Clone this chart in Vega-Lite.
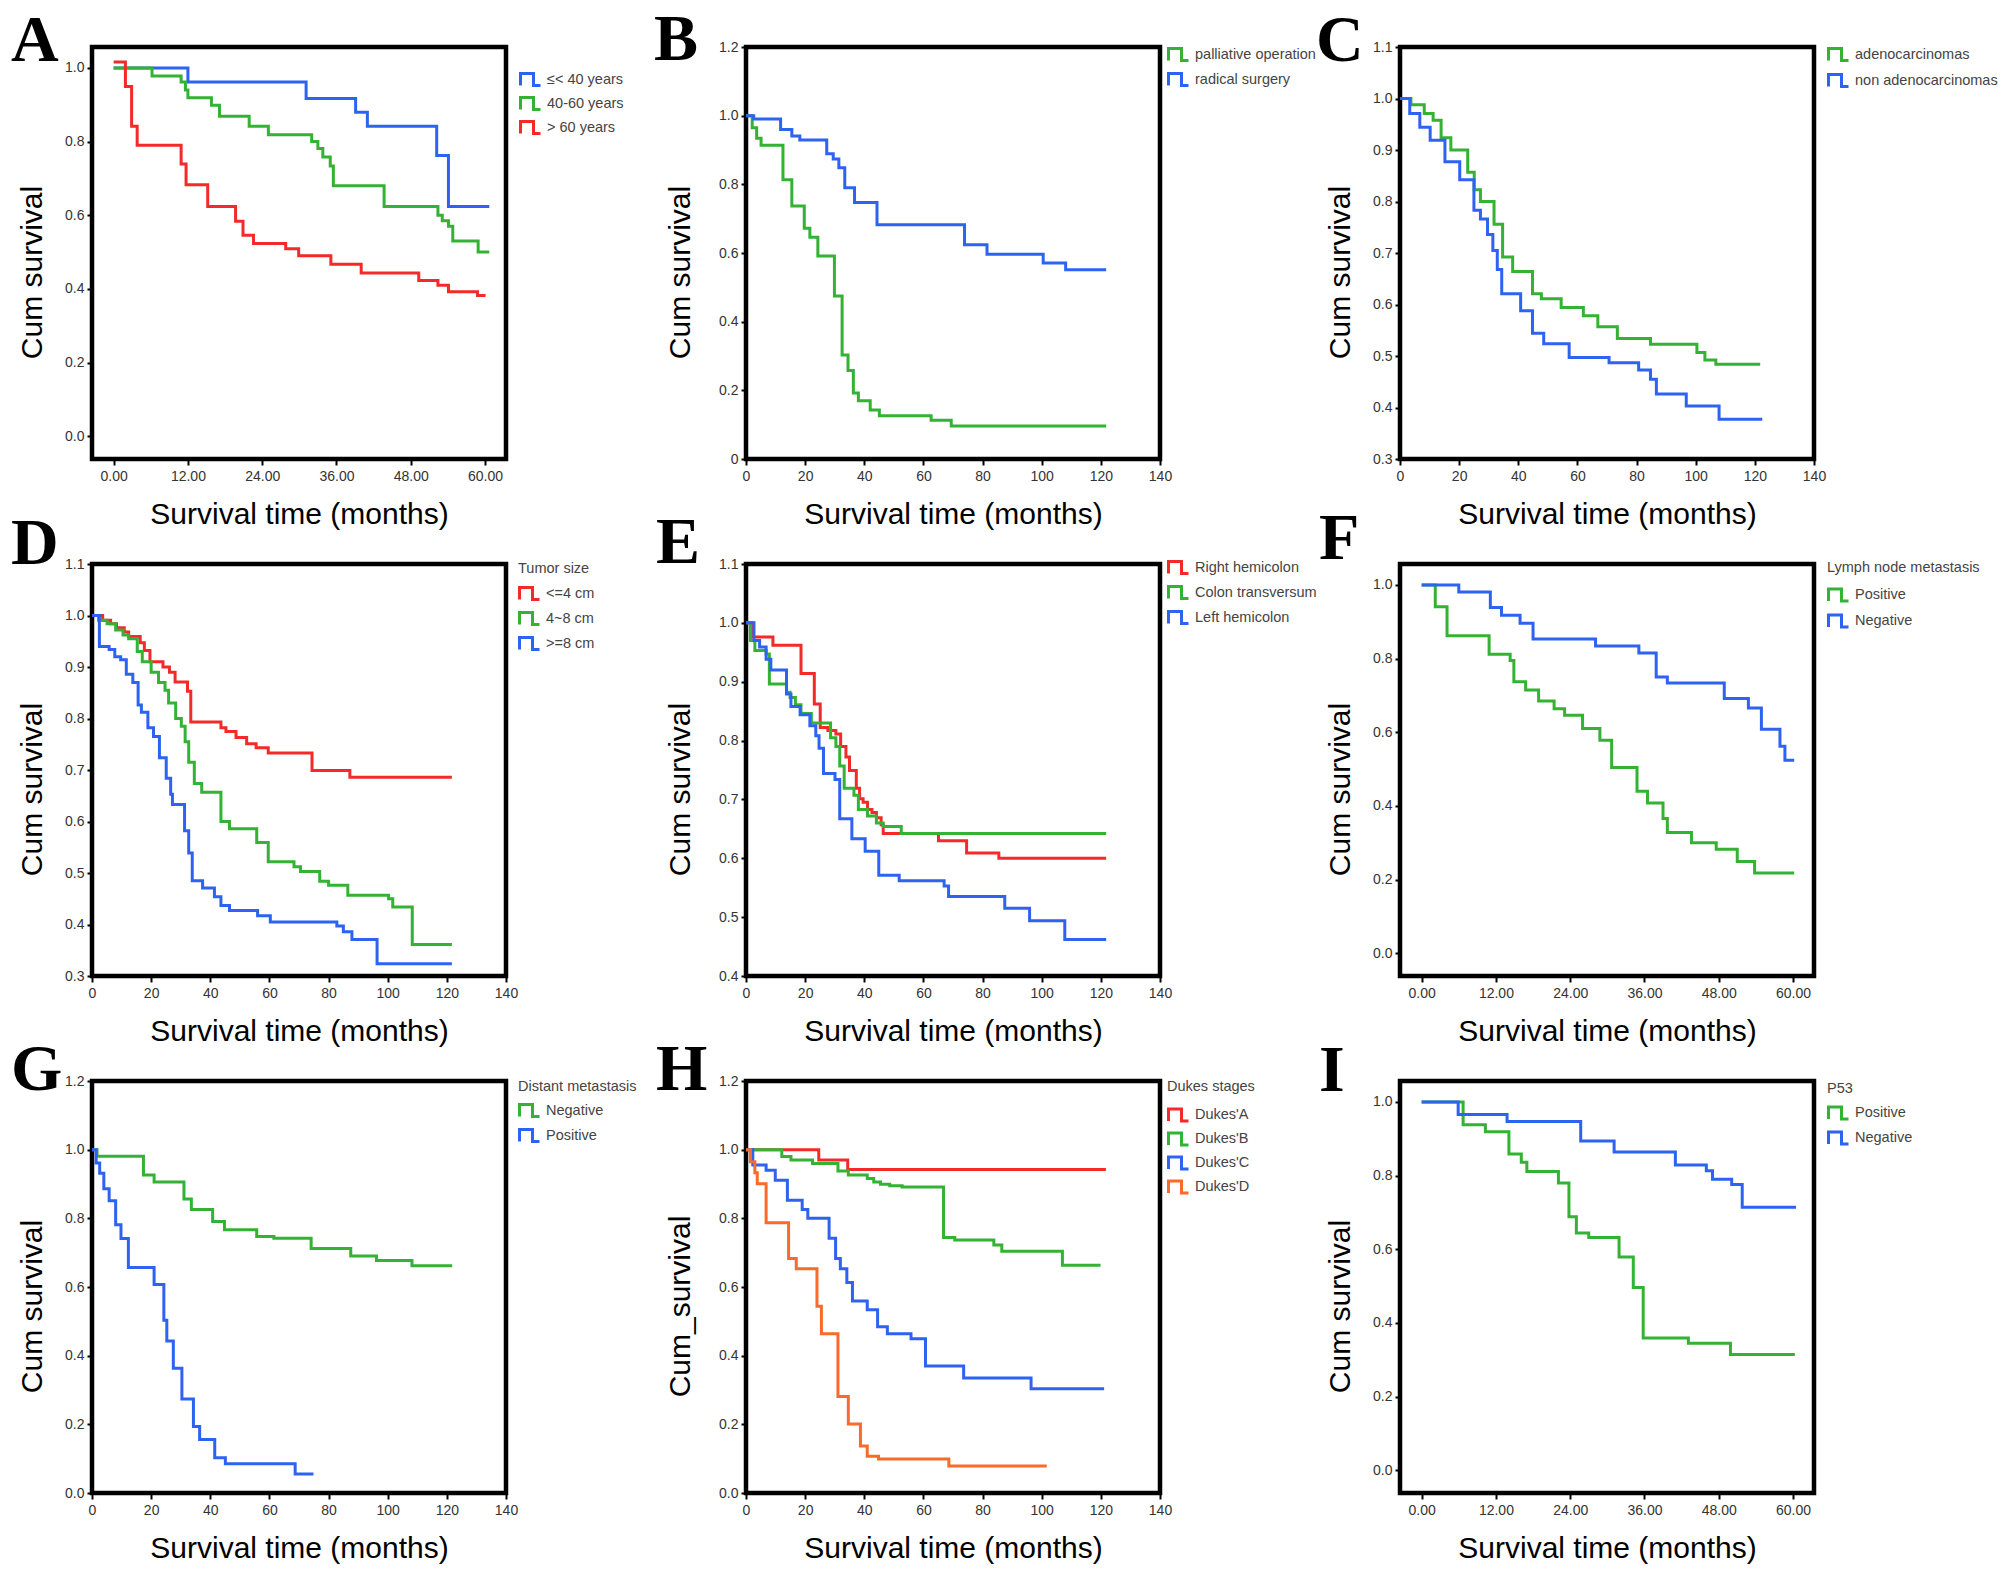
{
"$schema": "https://vega.github.io/schema/vega-lite/v6.json",
"autosize": {"type": "none"},
"padding": {"left": 92, "top": 47, "right": 1916, "bottom": 1530},
"background": "white",
"datasets": {
"km": [
{"p":"A","g":"≤< 40 years","t":0,"s":1.0},{"p":"A","g":"≤< 40 years","t":12,"s":0.962},{"p":"A","g":"≤< 40 years","t":31.1,"s":0.917},{"p":"A","g":"≤< 40 years","t":39.1,"s":0.88},{"p":"A","g":"≤< 40 years","t":41,"s":0.842},{"p":"A","g":"≤< 40 years","t":52.2,"s":0.762},{"p":"A","g":"≤< 40 years","t":54.1,"s":0.624},{"p":"A","g":"≤< 40 years","t":60.7,"s":0.624},
{"p":"A","g":"40-60 years","t":0,"s":1.0},{"p":"A","g":"40-60 years","t":6.2,"s":0.978},{"p":"A","g":"40-60 years","t":10.9,"s":0.962},{"p":"A","g":"40-60 years","t":11.6,"s":0.94},{"p":"A","g":"40-60 years","t":12,"s":0.919},{"p":"A","g":"40-60 years","t":15.8,"s":0.899},{"p":"A","g":"40-60 years","t":17.1,"s":0.869},{"p":"A","g":"40-60 years","t":21.9,"s":0.842},{"p":"A","g":"40-60 years","t":25,"s":0.819},{"p":"A","g":"40-60 years","t":32,"s":0.8},{"p":"A","g":"40-60 years","t":33,"s":0.781},{"p":"A","g":"40-60 years","t":33.8,"s":0.758},{"p":"A","g":"40-60 years","t":35,"s":0.734},{"p":"A","g":"40-60 years","t":35.5,"s":0.68},{"p":"A","g":"40-60 years","t":43.7,"s":0.624},{"p":"A","g":"40-60 years","t":52.4,"s":0.6},{"p":"A","g":"40-60 years","t":53.1,"s":0.585},{"p":"A","g":"40-60 years","t":54.1,"s":0.57},{"p":"A","g":"40-60 years","t":54.8,"s":0.53},{"p":"A","g":"40-60 years","t":58.9,"s":0.5},{"p":"A","g":"40-60 years","t":60.7,"s":0.5},
{"p":"A","g":"> 60 years","t":0,"s":1.016},{"p":"A","g":"> 60 years","t":1.9,"s":0.95},{"p":"A","g":"> 60 years","t":2.9,"s":0.842},{"p":"A","g":"> 60 years","t":3.8,"s":0.79},{"p":"A","g":"> 60 years","t":10.9,"s":0.739},{"p":"A","g":"> 60 years","t":11.7,"s":0.683},{"p":"A","g":"> 60 years","t":15.2,"s":0.624},{"p":"A","g":"> 60 years","t":19.7,"s":0.584},{"p":"A","g":"> 60 years","t":20.9,"s":0.546},{"p":"A","g":"> 60 years","t":22.6,"s":0.523},{"p":"A","g":"> 60 years","t":27.8,"s":0.509},{"p":"A","g":"> 60 years","t":29.9,"s":0.49},{"p":"A","g":"> 60 years","t":35.1,"s":0.467},{"p":"A","g":"> 60 years","t":40,"s":0.443},{"p":"A","g":"> 60 years","t":49.3,"s":0.423},{"p":"A","g":"> 60 years","t":52.4,"s":0.41},{"p":"A","g":"> 60 years","t":54.1,"s":0.392},{"p":"A","g":"> 60 years","t":58.8,"s":0.382},{"p":"A","g":"> 60 years","t":60.1,"s":0.382},
{"p":"B","g":"palliative operation","t":0,"s":1.0},{"p":"B","g":"palliative operation","t":2.1,"s":0.965},{"p":"B","g":"palliative operation","t":3.6,"s":0.934},{"p":"B","g":"palliative operation","t":5.1,"s":0.914},{"p":"B","g":"palliative operation","t":12.5,"s":0.813},{"p":"B","g":"palliative operation","t":15.5,"s":0.737},{"p":"B","g":"palliative operation","t":19.7,"s":0.672},{"p":"B","g":"palliative operation","t":21.6,"s":0.646},{"p":"B","g":"palliative operation","t":24.3,"s":0.591},{"p":"B","g":"palliative operation","t":29.9,"s":0.475},{"p":"B","g":"palliative operation","t":32.5,"s":0.303},{"p":"B","g":"palliative operation","t":34.5,"s":0.258},{"p":"B","g":"palliative operation","t":36.3,"s":0.192},{"p":"B","g":"palliative operation","t":38,"s":0.17},{"p":"B","g":"palliative operation","t":42,"s":0.143},{"p":"B","g":"palliative operation","t":45.1,"s":0.126},{"p":"B","g":"palliative operation","t":62.6,"s":0.113},{"p":"B","g":"palliative operation","t":69.4,"s":0.096},{"p":"B","g":"palliative operation","t":121.8,"s":0.096},
{"p":"B","g":"radical surgery","t":0,"s":1.0},{"p":"B","g":"radical surgery","t":2.6,"s":0.99},{"p":"B","g":"radical surgery","t":11.7,"s":0.96},{"p":"B","g":"radical surgery","t":15.5,"s":0.941},{"p":"B","g":"radical surgery","t":18.2,"s":0.929},{"p":"B","g":"radical surgery","t":27.3,"s":0.889},{"p":"B","g":"radical surgery","t":29.5,"s":0.874},{"p":"B","g":"radical surgery","t":31.4,"s":0.848},{"p":"B","g":"radical surgery","t":33.4,"s":0.79},{"p":"B","g":"radical surgery","t":36.7,"s":0.747},{"p":"B","g":"radical surgery","t":44.3,"s":0.682},{"p":"B","g":"radical surgery","t":73.9,"s":0.624},{"p":"B","g":"radical surgery","t":81.5,"s":0.596},{"p":"B","g":"radical surgery","t":100.5,"s":0.571},{"p":"B","g":"radical surgery","t":108.1,"s":0.551},{"p":"B","g":"radical surgery","t":121.8,"s":0.551},
{"p":"C","g":"adenocarcinomas","t":0,"s":1.0},{"p":"C","g":"adenocarcinomas","t":3.7,"s":0.988},{"p":"C","g":"adenocarcinomas","t":8.2,"s":0.971},{"p":"C","g":"adenocarcinomas","t":11.2,"s":0.958},{"p":"C","g":"adenocarcinomas","t":13.9,"s":0.924},{"p":"C","g":"adenocarcinomas","t":17.2,"s":0.9},{"p":"C","g":"adenocarcinomas","t":22.9,"s":0.857},{"p":"C","g":"adenocarcinomas","t":25.1,"s":0.823},{"p":"C","g":"adenocarcinomas","t":27.2,"s":0.8},{"p":"C","g":"adenocarcinomas","t":31.8,"s":0.756},{"p":"C","g":"adenocarcinomas","t":34.7,"s":0.692},{"p":"C","g":"adenocarcinomas","t":38.1,"s":0.664},{"p":"C","g":"adenocarcinomas","t":44.8,"s":0.621},{"p":"C","g":"adenocarcinomas","t":47.8,"s":0.611},{"p":"C","g":"adenocarcinomas","t":54.5,"s":0.594},{"p":"C","g":"adenocarcinomas","t":62,"s":0.578},{"p":"C","g":"adenocarcinomas","t":66.9,"s":0.557},{"p":"C","g":"adenocarcinomas","t":73.5,"s":0.534},{"p":"C","g":"adenocarcinomas","t":84.7,"s":0.523},{"p":"C","g":"adenocarcinomas","t":100.4,"s":0.507},{"p":"C","g":"adenocarcinomas","t":103.1,"s":0.492},{"p":"C","g":"adenocarcinomas","t":106.8,"s":0.484},{"p":"C","g":"adenocarcinomas","t":121.8,"s":0.484},
{"p":"C","g":"non adenocarcinomas","t":0,"s":1.0},{"p":"C","g":"non adenocarcinomas","t":3.3,"s":0.971},{"p":"C","g":"non adenocarcinomas","t":6.7,"s":0.944},{"p":"C","g":"non adenocarcinomas","t":10.2,"s":0.919},{"p":"C","g":"non adenocarcinomas","t":15.2,"s":0.877},{"p":"C","g":"non adenocarcinomas","t":20.2,"s":0.842},{"p":"C","g":"non adenocarcinomas","t":25,"s":0.783},{"p":"C","g":"non adenocarcinomas","t":27.2,"s":0.766},{"p":"C","g":"non adenocarcinomas","t":29.6,"s":0.736},{"p":"C","g":"non adenocarcinomas","t":31.4,"s":0.705},{"p":"C","g":"non adenocarcinomas","t":32.9,"s":0.668},{"p":"C","g":"non adenocarcinomas","t":34.4,"s":0.621},{"p":"C","g":"non adenocarcinomas","t":40.8,"s":0.588},{"p":"C","g":"non adenocarcinomas","t":44.8,"s":0.544},{"p":"C","g":"non adenocarcinomas","t":48.6,"s":0.524},{"p":"C","g":"non adenocarcinomas","t":57.2,"s":0.497},{"p":"C","g":"non adenocarcinomas","t":70.7,"s":0.487},{"p":"C","g":"non adenocarcinomas","t":80.7,"s":0.473},{"p":"C","g":"non adenocarcinomas","t":84.7,"s":0.455},{"p":"C","g":"non adenocarcinomas","t":86.7,"s":0.426},{"p":"C","g":"non adenocarcinomas","t":96.8,"s":0.403},{"p":"C","g":"non adenocarcinomas","t":107.9,"s":0.377},{"p":"C","g":"non adenocarcinomas","t":122.5,"s":0.377},
{"p":"D","g":"<=4 cm","t":0,"s":1.0},{"p":"D","g":"<=4 cm","t":3.6,"s":0.991},{"p":"D","g":"<=4 cm","t":6.3,"s":0.984},{"p":"D","g":"<=4 cm","t":8.3,"s":0.976},{"p":"D","g":"<=4 cm","t":10.9,"s":0.968},{"p":"D","g":"<=4 cm","t":12.4,"s":0.959},{"p":"D","g":"<=4 cm","t":16.3,"s":0.947},{"p":"D","g":"<=4 cm","t":17.7,"s":0.932},{"p":"D","g":"<=4 cm","t":19.6,"s":0.91},{"p":"D","g":"<=4 cm","t":24,"s":0.9},{"p":"D","g":"<=4 cm","t":26.2,"s":0.89},{"p":"D","g":"<=4 cm","t":28.1,"s":0.871},{"p":"D","g":"<=4 cm","t":32.3,"s":0.853},{"p":"D","g":"<=4 cm","t":33.4,"s":0.793},{"p":"D","g":"<=4 cm","t":43.6,"s":0.782},{"p":"D","g":"<=4 cm","t":45.3,"s":0.775},{"p":"D","g":"<=4 cm","t":48.7,"s":0.763},{"p":"D","g":"<=4 cm","t":52.3,"s":0.751},{"p":"D","g":"<=4 cm","t":55.5,"s":0.743},{"p":"D","g":"<=4 cm","t":59.6,"s":0.733},{"p":"D","g":"<=4 cm","t":74.4,"s":0.699},{"p":"D","g":"<=4 cm","t":87.2,"s":0.686},{"p":"D","g":"<=4 cm","t":121.7,"s":0.686},
{"p":"D","g":"4~8 cm","t":0,"s":1.0},{"p":"D","g":"4~8 cm","t":2.2,"s":0.991},{"p":"D","g":"4~8 cm","t":5.1,"s":0.984},{"p":"D","g":"4~8 cm","t":8,"s":0.972},{"p":"D","g":"4~8 cm","t":10.5,"s":0.962},{"p":"D","g":"4~8 cm","t":12.4,"s":0.955},{"p":"D","g":"4~8 cm","t":15.3,"s":0.93},{"p":"D","g":"4~8 cm","t":17,"s":0.91},{"p":"D","g":"4~8 cm","t":20,"s":0.89},{"p":"D","g":"4~8 cm","t":22.5,"s":0.87},{"p":"D","g":"4~8 cm","t":24.7,"s":0.855},{"p":"D","g":"4~8 cm","t":25.9,"s":0.83},{"p":"D","g":"4~8 cm","t":28.3,"s":0.8},{"p":"D","g":"4~8 cm","t":30.2,"s":0.785},{"p":"D","g":"4~8 cm","t":31.5,"s":0.755},{"p":"D","g":"4~8 cm","t":32.7,"s":0.715},{"p":"D","g":"4~8 cm","t":34.6,"s":0.674},{"p":"D","g":"4~8 cm","t":37.1,"s":0.657},{"p":"D","g":"4~8 cm","t":43.6,"s":0.6},{"p":"D","g":"4~8 cm","t":46.5,"s":0.586},{"p":"D","g":"4~8 cm","t":55.7,"s":0.559},{"p":"D","g":"4~8 cm","t":59.6,"s":0.522},{"p":"D","g":"4~8 cm","t":68.3,"s":0.512},{"p":"D","g":"4~8 cm","t":70.5,"s":0.503},{"p":"D","g":"4~8 cm","t":77,"s":0.484},{"p":"D","g":"4~8 cm","t":80,"s":0.476},{"p":"D","g":"4~8 cm","t":86.5,"s":0.457},{"p":"D","g":"4~8 cm","t":100.3,"s":0.45},{"p":"D","g":"4~8 cm","t":101.7,"s":0.434},{"p":"D","g":"4~8 cm","t":108.3,"s":0.361},{"p":"D","g":"4~8 cm","t":121.7,"s":0.361},
{"p":"D","g":">=8 cm","t":0,"s":1.0},{"p":"D","g":">=8 cm","t":2.5,"s":0.94},{"p":"D","g":">=8 cm","t":5.8,"s":0.934},{"p":"D","g":">=8 cm","t":7.7,"s":0.92},{"p":"D","g":">=8 cm","t":9.7,"s":0.914},{"p":"D","g":">=8 cm","t":11.6,"s":0.886},{"p":"D","g":">=8 cm","t":13.8,"s":0.87},{"p":"D","g":">=8 cm","t":15.6,"s":0.826},{"p":"D","g":">=8 cm","t":16.7,"s":0.812},{"p":"D","g":">=8 cm","t":18.9,"s":0.782},{"p":"D","g":">=8 cm","t":20.8,"s":0.765},{"p":"D","g":">=8 cm","t":22.8,"s":0.724},{"p":"D","g":">=8 cm","t":25.1,"s":0.684},{"p":"D","g":">=8 cm","t":26.6,"s":0.653},{"p":"D","g":">=8 cm","t":27.2,"s":0.633},{"p":"D","g":">=8 cm","t":31.3,"s":0.582},{"p":"D","g":">=8 cm","t":32.7,"s":0.539},{"p":"D","g":">=8 cm","t":33.9,"s":0.485},{"p":"D","g":">=8 cm","t":37.4,"s":0.471},{"p":"D","g":">=8 cm","t":41.4,"s":0.454},{"p":"D","g":">=8 cm","t":43.6,"s":0.437},{"p":"D","g":">=8 cm","t":46.5,"s":0.427},{"p":"D","g":">=8 cm","t":56,"s":0.417},{"p":"D","g":">=8 cm","t":60.3,"s":0.405},{"p":"D","g":">=8 cm","t":82.8,"s":0.397},{"p":"D","g":">=8 cm","t":85,"s":0.386},{"p":"D","g":">=8 cm","t":87.9,"s":0.371},{"p":"D","g":">=8 cm","t":96.4,"s":0.324},{"p":"D","g":">=8 cm","t":121.7,"s":0.324},
{"p":"E","g":"Right hemicolon","t":0,"s":1.0},{"p":"E","g":"Right hemicolon","t":2.3,"s":0.976},{"p":"E","g":"Right hemicolon","t":9.1,"s":0.962},{"p":"E","g":"Right hemicolon","t":18.6,"s":0.914},{"p":"E","g":"Right hemicolon","t":23.1,"s":0.862},{"p":"E","g":"Right hemicolon","t":25.1,"s":0.822},{"p":"E","g":"Right hemicolon","t":27.7,"s":0.817},{"p":"E","g":"Right hemicolon","t":30.4,"s":0.811},{"p":"E","g":"Right hemicolon","t":32,"s":0.79},{"p":"E","g":"Right hemicolon","t":33.8,"s":0.772},{"p":"E","g":"Right hemicolon","t":35,"s":0.749},{"p":"E","g":"Right hemicolon","t":37.3,"s":0.719},{"p":"E","g":"Right hemicolon","t":38.4,"s":0.701},{"p":"E","g":"Right hemicolon","t":39.6,"s":0.695},{"p":"E","g":"Right hemicolon","t":41.1,"s":0.683},{"p":"E","g":"Right hemicolon","t":42.6,"s":0.678},{"p":"E","g":"Right hemicolon","t":44.1,"s":0.669},{"p":"E","g":"Right hemicolon","t":45.7,"s":0.657},{"p":"E","g":"Right hemicolon","t":46.4,"s":0.642},{"p":"E","g":"Right hemicolon","t":65.1,"s":0.63},{"p":"E","g":"Right hemicolon","t":74.6,"s":0.609},{"p":"E","g":"Right hemicolon","t":85.5,"s":0.6},{"p":"E","g":"Right hemicolon","t":121.8,"s":0.6},
{"p":"E","g":"Colon transversum","t":0,"s":1.0},{"p":"E","g":"Colon transversum","t":1.5,"s":0.97},{"p":"E","g":"Colon transversum","t":3,"s":0.953},{"p":"E","g":"Colon transversum","t":6.8,"s":0.947},{"p":"E","g":"Colon transversum","t":7.9,"s":0.896},{"p":"E","g":"Colon transversum","t":13.7,"s":0.882},{"p":"E","g":"Colon transversum","t":14.9,"s":0.873},{"p":"E","g":"Colon transversum","t":16.7,"s":0.861},{"p":"E","g":"Colon transversum","t":18.6,"s":0.846},{"p":"E","g":"Colon transversum","t":22.1,"s":0.83},{"p":"E","g":"Colon transversum","t":28.6,"s":0.805},{"p":"E","g":"Colon transversum","t":30.4,"s":0.79},{"p":"E","g":"Colon transversum","t":31.7,"s":0.757},{"p":"E","g":"Colon transversum","t":33.2,"s":0.719},{"p":"E","g":"Colon transversum","t":36.5,"s":0.707},{"p":"E","g":"Colon transversum","t":38,"s":0.683},{"p":"E","g":"Colon transversum","t":41.1,"s":0.672},{"p":"E","g":"Colon transversum","t":44.1,"s":0.66},{"p":"E","g":"Colon transversum","t":46.4,"s":0.654},{"p":"E","g":"Colon transversum","t":52.5,"s":0.642},{"p":"E","g":"Colon transversum","t":121.8,"s":0.642},
{"p":"E","g":"Left hemicolon","t":0,"s":1.0},{"p":"E","g":"Left hemicolon","t":2.7,"s":0.97},{"p":"E","g":"Left hemicolon","t":4.6,"s":0.959},{"p":"E","g":"Left hemicolon","t":6.8,"s":0.938},{"p":"E","g":"Left hemicolon","t":8.4,"s":0.92},{"p":"E","g":"Left hemicolon","t":13.7,"s":0.879},{"p":"E","g":"Left hemicolon","t":15.2,"s":0.858},{"p":"E","g":"Left hemicolon","t":18.3,"s":0.844},{"p":"E","g":"Left hemicolon","t":21.6,"s":0.825},{"p":"E","g":"Left hemicolon","t":23.6,"s":0.808},{"p":"E","g":"Left hemicolon","t":24.7,"s":0.787},{"p":"E","g":"Left hemicolon","t":26.2,"s":0.744},{"p":"E","g":"Left hemicolon","t":30.1,"s":0.734},{"p":"E","g":"Left hemicolon","t":31.7,"s":0.667},{"p":"E","g":"Left hemicolon","t":35.8,"s":0.633},{"p":"E","g":"Left hemicolon","t":40.3,"s":0.612},{"p":"E","g":"Left hemicolon","t":44.9,"s":0.571},{"p":"E","g":"Left hemicolon","t":51.8,"s":0.562},{"p":"E","g":"Left hemicolon","t":67,"s":0.553},{"p":"E","g":"Left hemicolon","t":68.5,"s":0.535},{"p":"E","g":"Left hemicolon","t":87.5,"s":0.515},{"p":"E","g":"Left hemicolon","t":95.9,"s":0.494},{"p":"E","g":"Left hemicolon","t":107.8,"s":0.462},{"p":"E","g":"Left hemicolon","t":121.8,"s":0.462},
{"p":"F","g":"Positive","t":0,"s":1.0},{"p":"F","g":"Positive","t":2.2,"s":0.941},{"p":"F","g":"Positive","t":4.1,"s":0.862},{"p":"F","g":"Positive","t":10.9,"s":0.812},{"p":"F","g":"Positive","t":14.3,"s":0.795},{"p":"F","g":"Positive","t":14.9,"s":0.737},{"p":"F","g":"Positive","t":16.8,"s":0.715},{"p":"F","g":"Positive","t":18.9,"s":0.685},{"p":"F","g":"Positive","t":21.4,"s":0.664},{"p":"F","g":"Positive","t":23.1,"s":0.646},{"p":"F","g":"Positive","t":26,"s":0.61},{"p":"F","g":"Positive","t":28.8,"s":0.578},{"p":"F","g":"Positive","t":30.7,"s":0.504},{"p":"F","g":"Positive","t":34.8,"s":0.44},{"p":"F","g":"Positive","t":36.5,"s":0.408},{"p":"F","g":"Positive","t":39,"s":0.366},{"p":"F","g":"Positive","t":39.7,"s":0.328},{"p":"F","g":"Positive","t":43.6,"s":0.3},{"p":"F","g":"Positive","t":47.6,"s":0.282},{"p":"F","g":"Positive","t":51,"s":0.249},{"p":"F","g":"Positive","t":53.8,"s":0.218},{"p":"F","g":"Positive","t":60.2,"s":0.218},
{"p":"F","g":"Negative","t":0,"s":1.0},{"p":"F","g":"Negative","t":6,"s":0.981},{"p":"F","g":"Negative","t":11.1,"s":0.939},{"p":"F","g":"Negative","t":12.9,"s":0.918},{"p":"F","g":"Negative","t":15.9,"s":0.896},{"p":"F","g":"Negative","t":18,"s":0.853},{"p":"F","g":"Negative","t":28.1,"s":0.834},{"p":"F","g":"Negative","t":35.1,"s":0.815},{"p":"F","g":"Negative","t":37.9,"s":0.75},{"p":"F","g":"Negative","t":39.7,"s":0.734},{"p":"F","g":"Negative","t":48.9,"s":0.692},{"p":"F","g":"Negative","t":52.8,"s":0.666},{"p":"F","g":"Negative","t":54.9,"s":0.608},{"p":"F","g":"Negative","t":57.9,"s":0.562},{"p":"F","g":"Negative","t":58.7,"s":0.524},{"p":"F","g":"Negative","t":60.2,"s":0.524},
{"p":"G","g":"Negative","t":0,"s":1.0},{"p":"G","g":"Negative","t":1.7,"s":0.981},{"p":"G","g":"Negative","t":17.4,"s":0.926},{"p":"G","g":"Negative","t":21,"s":0.906},{"p":"G","g":"Negative","t":31.1,"s":0.856},{"p":"G","g":"Negative","t":33.6,"s":0.826},{"p":"G","g":"Negative","t":40.8,"s":0.791},{"p":"G","g":"Negative","t":44.8,"s":0.767},{"p":"G","g":"Negative","t":55.7,"s":0.747},{"p":"G","g":"Negative","t":61.5,"s":0.742},{"p":"G","g":"Negative","t":74.1,"s":0.712},{"p":"G","g":"Negative","t":87.5,"s":0.69},{"p":"G","g":"Negative","t":96.2,"s":0.677},{"p":"G","g":"Negative","t":108.2,"s":0.662},{"p":"G","g":"Negative","t":121.8,"s":0.662},
{"p":"G","g":"Positive","t":0,"s":1.0},{"p":"G","g":"Positive","t":1.4,"s":0.961},{"p":"G","g":"Positive","t":2.6,"s":0.931},{"p":"G","g":"Positive","t":4,"s":0.886},{"p":"G","g":"Positive","t":5.8,"s":0.851},{"p":"G","g":"Positive","t":8,"s":0.781},{"p":"G","g":"Positive","t":9.8,"s":0.741},{"p":"G","g":"Positive","t":12.3,"s":0.657},{"p":"G","g":"Positive","t":21,"s":0.607},{"p":"G","g":"Positive","t":24.3,"s":0.503},{"p":"G","g":"Positive","t":25.3,"s":0.443},{"p":"G","g":"Positive","t":27.5,"s":0.363},{"p":"G","g":"Positive","t":30.4,"s":0.274},{"p":"G","g":"Positive","t":34.3,"s":0.194},{"p":"G","g":"Positive","t":36.4,"s":0.156},{"p":"G","g":"Positive","t":41.5,"s":0.103},{"p":"G","g":"Positive","t":45.1,"s":0.085},{"p":"G","g":"Positive","t":68.7,"s":0.055},{"p":"G","g":"Positive","t":74.9,"s":0.055},
{"p":"H","g":"Dukes'A","t":0,"s":1.0},{"p":"H","g":"Dukes'A","t":24.6,"s":0.97},{"p":"H","g":"Dukes'A","t":34.4,"s":0.942},{"p":"H","g":"Dukes'A","t":121.7,"s":0.942},
{"p":"H","g":"Dukes'B","t":0,"s":1.0},{"p":"H","g":"Dukes'B","t":12.1,"s":0.98},{"p":"H","g":"Dukes'B","t":15.2,"s":0.97},{"p":"H","g":"Dukes'B","t":22.5,"s":0.96},{"p":"H","g":"Dukes'B","t":31.1,"s":0.938},{"p":"H","g":"Dukes'B","t":34.6,"s":0.926},{"p":"H","g":"Dukes'B","t":41,"s":0.916},{"p":"H","g":"Dukes'B","t":43.2,"s":0.906},{"p":"H","g":"Dukes'B","t":45.5,"s":0.899},{"p":"H","g":"Dukes'B","t":48.6,"s":0.895},{"p":"H","g":"Dukes'B","t":52.8,"s":0.891},{"p":"H","g":"Dukes'B","t":66.8,"s":0.744},{"p":"H","g":"Dukes'B","t":70.6,"s":0.737},{"p":"H","g":"Dukes'B","t":83.8,"s":0.722},{"p":"H","g":"Dukes'B","t":86.5,"s":0.704},{"p":"H","g":"Dukes'B","t":107,"s":0.663},{"p":"H","g":"Dukes'B","t":119.9,"s":0.663},
{"p":"H","g":"Dukes'C","t":0,"s":1.0},{"p":"H","g":"Dukes'C","t":2.3,"s":0.955},{"p":"H","g":"Dukes'C","t":6.8,"s":0.94},{"p":"H","g":"Dukes'C","t":9.9,"s":0.911},{"p":"H","g":"Dukes'C","t":14,"s":0.853},{"p":"H","g":"Dukes'C","t":19,"s":0.826},{"p":"H","g":"Dukes'C","t":20.9,"s":0.8},{"p":"H","g":"Dukes'C","t":28.1,"s":0.742},{"p":"H","g":"Dukes'C","t":30.3,"s":0.683},{"p":"H","g":"Dukes'C","t":31.9,"s":0.653},{"p":"H","g":"Dukes'C","t":34.1,"s":0.613},{"p":"H","g":"Dukes'C","t":36,"s":0.559},{"p":"H","g":"Dukes'C","t":41,"s":0.534},{"p":"H","g":"Dukes'C","t":44.5,"s":0.484},{"p":"H","g":"Dukes'C","t":47.8,"s":0.464},{"p":"H","g":"Dukes'C","t":55.8,"s":0.449},{"p":"H","g":"Dukes'C","t":60.7,"s":0.37},{"p":"H","g":"Dukes'C","t":73.6,"s":0.335},{"p":"H","g":"Dukes'C","t":96.4,"s":0.304},{"p":"H","g":"Dukes'C","t":121.1,"s":0.304},
{"p":"H","g":"Dukes'D","t":0,"s":1.0},{"p":"H","g":"Dukes'D","t":1.5,"s":0.965},{"p":"H","g":"Dukes'D","t":3,"s":0.933},{"p":"H","g":"Dukes'D","t":3.8,"s":0.901},{"p":"H","g":"Dukes'D","t":6.8,"s":0.787},{"p":"H","g":"Dukes'D","t":14.4,"s":0.683},{"p":"H","g":"Dukes'D","t":17,"s":0.653},{"p":"H","g":"Dukes'D","t":24,"s":0.544},{"p":"H","g":"Dukes'D","t":25.5,"s":0.464},{"p":"H","g":"Dukes'D","t":31.1,"s":0.281},{"p":"H","g":"Dukes'D","t":34.6,"s":0.201},{"p":"H","g":"Dukes'D","t":38.7,"s":0.137},{"p":"H","g":"Dukes'D","t":41,"s":0.107},{"p":"H","g":"Dukes'D","t":44.8,"s":0.099},{"p":"H","g":"Dukes'D","t":68.6,"s":0.079},{"p":"H","g":"Dukes'D","t":101.7,"s":0.079},
{"p":"I","g":"Positive","t":0,"s":1.0},{"p":"I","g":"Positive","t":6.7,"s":0.938},{"p":"I","g":"Positive","t":10.3,"s":0.919},{"p":"I","g":"Positive","t":14.1,"s":0.859},{"p":"I","g":"Positive","t":16.1,"s":0.836},{"p":"I","g":"Positive","t":17,"s":0.811},{"p":"I","g":"Positive","t":22.1,"s":0.78},{"p":"I","g":"Positive","t":23.8,"s":0.688},{"p":"I","g":"Positive","t":25,"s":0.644},{"p":"I","g":"Positive","t":27,"s":0.632},{"p":"I","g":"Positive","t":31.9,"s":0.579},{"p":"I","g":"Positive","t":34.2,"s":0.496},{"p":"I","g":"Positive","t":35.8,"s":0.359},{"p":"I","g":"Positive","t":43.1,"s":0.345},{"p":"I","g":"Positive","t":49.9,"s":0.314},{"p":"I","g":"Positive","t":60.3,"s":0.314},
{"p":"I","g":"Negative","t":0,"s":1.0},{"p":"I","g":"Negative","t":5.9,"s":0.966},{"p":"I","g":"Negative","t":13.8,"s":0.947},{"p":"I","g":"Negative","t":25.7,"s":0.894},{"p":"I","g":"Negative","t":31.1,"s":0.864},{"p":"I","g":"Negative","t":41,"s":0.829},{"p":"I","g":"Negative","t":46,"s":0.813},{"p":"I","g":"Negative","t":47,"s":0.79},{"p":"I","g":"Negative","t":50.1,"s":0.776},{"p":"I","g":"Negative","t":51.8,"s":0.714},{"p":"I","g":"Negative","t":60.5,"s":0.714}
]
},
"data": {"name": "km"},
"columns": 3,
"spacing": {"row": 105, "column": 240},
"bounds": "flush",
"resolve": {"scale": {"color": "independent"}, "legend": {"color": "independent"}},
"concat": [
{
 "width": 414, "height": 412,
 "title": {"text": "A", "dx": -81, "dy": 32},
 "transform": [{"filter": "datum.p == 'A'"}],
 "mark": {"type": "line", "interpolate": "step-after", "strokeWidth": 3},
 "encoding": {
  "x": {"field": "t", "type": "quantitative", "scale": {"domain": [-3.5, 63.4], "nice": false, "zero": false}, "axis": {"values": [0, 12, 24, 36, 48, 60], "format": ".2f", "title": "Survival time (months)"}},
  "y": {"field": "s", "type": "quantitative", "scale": {"domain": [-0.062, 1.057], "nice": false, "zero": false}, "axis": {"values": [0, 0.2, 0.4, 0.6, 0.8, 1.0], "format": ".1f", "title": "Cum survival"}},
  "color": {"field": "g", "type": "nominal", "scale": {"domain": ["≤< 40 years", "40-60 years", "> 60 years"], "range": ["#2e62f0", "#33b233", "#f42a2a"]},
   "legend": {"title": null, "orient": "none", "legendX": 427, "legendY": 21, "rowPadding": -5, "encode": {"symbols": {"update": {"fill": {"value": "transparent"}}}}}}
 }
},
{
 "width": 414, "height": 412,
 "title": {"text": "B", "dx": -92, "dy": 38},
 "transform": [{"filter": "datum.p == 'B'"}],
 "mark": {"type": "line", "interpolate": "step-after", "strokeWidth": 3},
 "encoding": {
  "x": {"field": "t", "type": "quantitative", "scale": {"domain": [0, 140], "nice": false, "zero": false}, "axis": {"values": [0, 20, 40, 60, 80, 100, 120, 140], "format": "d", "title": "Survival time (months)"}},
  "y": {"field": "s", "type": "quantitative", "scale": {"domain": [0, 1.2], "nice": false, "zero": false}, "axis": {"values": [0, 0.2, 0.4, 0.6, 0.8, 1.0, 1.2], "labelExpr": "datum.value == 0 ? '0' : format(datum.value, '.1f')", "title": "Cum survival", "titleX": -51}},
  "color": {"field": "g", "type": "nominal", "scale": {"domain": ["palliative operation", "radical surgery"], "range": ["#33b233", "#2e62f0"]},
   "legend": {"title": null, "orient": "none", "legendX": 421, "legendY": -4, "rowPadding": 0, "encode": {"symbols": {"update": {"fill": {"value": "transparent"}}}}}}
 }
},
{
 "width": 414, "height": 412,
 "title": {"text": "C", "dx": -84, "dy": 39},
 "transform": [{"filter": "datum.p == 'C'"}],
 "mark": {"type": "line", "interpolate": "step-after", "strokeWidth": 3},
 "encoding": {
  "x": {"field": "t", "type": "quantitative", "scale": {"domain": [0, 140], "nice": false, "zero": false}, "axis": {"values": [0, 20, 40, 60, 80, 100, 120, 140], "format": "d", "title": "Survival time (months)"}},
  "y": {"field": "s", "type": "quantitative", "scale": {"domain": [0.3, 1.1], "nice": false, "zero": false}, "axis": {"values": [0.3, 0.4, 0.5, 0.6, 0.7, 0.8, 0.9, 1.0, 1.1], "format": ".1f", "title": "Cum survival"}},
  "color": {"field": "g", "type": "nominal", "scale": {"domain": ["adenocarcinomas", "non adenocarcinomas"], "range": ["#33b233", "#2e62f0"]},
   "legend": {"title": null, "orient": "none", "legendX": 427, "legendY": -4, "rowPadding": 1, "encode": {"symbols": {"update": {"fill": {"value": "transparent"}}}}}}
 }
},
{
 "width": 414, "height": 412,
 "title": {"text": "D", "dx": -81, "dy": 25},
 "transform": [{"filter": "datum.p == 'D'"}],
 "mark": {"type": "line", "interpolate": "step-after", "strokeWidth": 3},
 "encoding": {
  "x": {"field": "t", "type": "quantitative", "scale": {"domain": [0, 140], "nice": false, "zero": false}, "axis": {"values": [0, 20, 40, 60, 80, 100, 120, 140], "format": "d", "title": "Survival time (months)"}},
  "y": {"field": "s", "type": "quantitative", "scale": {"domain": [0.3, 1.1], "nice": false, "zero": false}, "axis": {"values": [0.3, 0.4, 0.5, 0.6, 0.7, 0.8, 0.9, 1.0, 1.1], "format": ".1f", "title": "Cum survival"}},
  "color": {"field": "g", "type": "nominal", "scale": {"domain": ["<=4 cm", "4~8 cm", ">=8 cm"], "range": ["#f42a2a", "#33b233", "#2e62f0"]},
   "legend": {"title": "Tumor size", "orient": "none", "legendX": 426, "legendY": -2, "titlePadding": 5.5, "rowPadding": 0, "encode": {"symbols": {"update": {"fill": {"value": "transparent"}}}}}}
 }
},
{
 "width": 414, "height": 412,
 "title": {"text": "E", "dx": -90, "dy": 25},
 "transform": [{"filter": "datum.p == 'E'"}],
 "mark": {"type": "line", "interpolate": "step-after", "strokeWidth": 3},
 "encoding": {
  "x": {"field": "t", "type": "quantitative", "scale": {"domain": [0, 140], "nice": false, "zero": false}, "axis": {"values": [0, 20, 40, 60, 80, 100, 120, 140], "format": "d", "title": "Survival time (months)"}},
  "y": {"field": "s", "type": "quantitative", "scale": {"domain": [0.4, 1.1], "nice": false, "zero": false}, "axis": {"values": [0.4, 0.5, 0.6, 0.7, 0.8, 0.9, 1.0, 1.1], "format": ".1f", "title": "Cum survival", "titleX": -51}},
  "color": {"field": "g", "type": "nominal", "scale": {"domain": ["Right hemicolon", "Colon transversum", "Left hemicolon"], "range": ["#f42a2a", "#33b233", "#2e62f0"]},
   "legend": {"title": null, "orient": "none", "legendX": 421, "legendY": -8, "rowPadding": 0, "encode": {"symbols": {"update": {"fill": {"value": "transparent"}}}}}}
 }
},
{
 "width": 414, "height": 412,
 "title": {"text": "F", "dx": -81, "dy": 16},
 "transform": [{"filter": "datum.p == 'F'"}],
 "mark": {"type": "line", "interpolate": "step-after", "strokeWidth": 3},
 "encoding": {
  "x": {"field": "t", "type": "quantitative", "scale": {"domain": [-3.5, 63.4], "nice": false, "zero": false}, "axis": {"values": [0, 12, 24, 36, 48, 60], "format": ".2f", "title": "Survival time (months)"}},
  "y": {"field": "s", "type": "quantitative", "scale": {"domain": [-0.062, 1.057], "nice": false, "zero": false}, "axis": {"values": [0, 0.2, 0.4, 0.6, 0.8, 1.0], "format": ".1f", "title": "Cum survival"}},
  "color": {"field": "g", "type": "nominal", "scale": {"domain": ["Positive", "Negative"], "range": ["#33b233", "#2e62f0"]},
   "legend": {"title": "Lymph node metastasis", "orient": "none", "legendX": 427, "legendY": -3, "titlePadding": 8, "rowPadding": 1, "encode": {"symbols": {"update": {"fill": {"value": "transparent"}}}}}}
 }
},
{
 "width": 414, "height": 412,
 "title": {"text": "G", "dx": -81, "dy": 34},
 "transform": [{"filter": "datum.p == 'G'"}],
 "mark": {"type": "line", "interpolate": "step-after", "strokeWidth": 3},
 "encoding": {
  "x": {"field": "t", "type": "quantitative", "scale": {"domain": [0, 140], "nice": false, "zero": false}, "axis": {"values": [0, 20, 40, 60, 80, 100, 120, 140], "format": "d", "title": "Survival time (months)"}},
  "y": {"field": "s", "type": "quantitative", "scale": {"domain": [0, 1.2], "nice": false, "zero": false}, "axis": {"values": [0, 0.2, 0.4, 0.6, 0.8, 1.0, 1.2], "format": ".1f", "title": "Cum survival"}},
  "color": {"field": "g", "type": "nominal", "scale": {"domain": ["Negative", "Positive"], "range": ["#33b233", "#2e62f0"]},
   "legend": {"title": "Distant metastasis", "orient": "none", "legendX": 426, "legendY": -1, "titlePadding": 4.5, "rowPadding": 0, "encode": {"symbols": {"update": {"fill": {"value": "transparent"}}}}}}
 }
},
{
 "width": 414, "height": 412,
 "title": {"text": "H", "dx": -90, "dy": 34},
 "transform": [{"filter": "datum.p == 'H'"}],
 "mark": {"type": "line", "interpolate": "step-after", "strokeWidth": 3},
 "encoding": {
  "x": {"field": "t", "type": "quantitative", "scale": {"domain": [0, 140], "nice": false, "zero": false}, "axis": {"values": [0, 20, 40, 60, 80, 100, 120, 140], "format": "d", "title": "Survival time (months)"}},
  "y": {"field": "s", "type": "quantitative", "scale": {"domain": [0, 1.2], "nice": false, "zero": false}, "axis": {"values": [0, 0.2, 0.4, 0.6, 0.8, 1.0, 1.2], "format": ".1f", "title": "Cum_survival", "titleX": -51}},
  "color": {"field": "g", "type": "nominal", "scale": {"domain": ["Dukes'A", "Dukes'B", "Dukes'C", "Dukes'D"], "range": ["#f42a2a", "#33b233", "#2e62f0", "#fa6a2a"]},
   "legend": {"title": "Dukes stages", "orient": "none", "legendX": 421, "legendY": -1, "titlePadding": 9, "rowPadding": -1, "encode": {"symbols": {"update": {"fill": {"value": "transparent"}}}}}}
 }
},
{
 "width": 414, "height": 412,
 "title": {"text": "I", "dx": -81, "dy": 28},
 "transform": [{"filter": "datum.p == 'I'"}],
 "mark": {"type": "line", "interpolate": "step-after", "strokeWidth": 3},
 "encoding": {
  "x": {"field": "t", "type": "quantitative", "scale": {"domain": [-3.5, 63.4], "nice": false, "zero": false}, "axis": {"values": [0, 12, 24, 36, 48, 60], "format": ".2f", "title": "Survival time (months)"}},
  "y": {"field": "s", "type": "quantitative", "scale": {"domain": [-0.062, 1.057], "nice": false, "zero": false}, "axis": {"values": [0, 0.2, 0.4, 0.6, 0.8, 1.0], "format": ".1f", "title": "Cum survival"}},
  "color": {"field": "g", "type": "nominal", "scale": {"domain": ["Positive", "Negative"], "range": ["#33b233", "#2e62f0"]},
   "legend": {"title": "P53", "orient": "none", "legendX": 427, "legendY": 1, "titlePadding": 5, "rowPadding": 0, "encode": {"symbols": {"update": {"fill": {"value": "transparent"}}}}}}
 }
}
],
"config": {
 "view": {"stroke": "black", "strokeWidth": 4.5},
 "axis": {"domain": false, "grid": false, "tickColor": "black", "tickWidth": 2, "labelFont": "Liberation Sans", "labelFontSize": 14, "labelColor": "#333333", "titleFont": "Liberation Sans", "titleFontSize": 30, "titleFontWeight": "normal", "titleColor": "black", "labelFlush": false, "labelOverlap": false, "labelBound": false},
 "axisX": {"tickSize": 6, "labelPadding": 4, "titleY": 40},
 "axisY": {"tickSize": 5, "labelPadding": 3, "titleX": -45, "titleY": 225},
 "legend": {"symbolType": "M-1,0.6L-1,-0.6L0.3,-0.6L0.3,0.6L1,0.6", "symbolSize": 400, "symbolStrokeWidth": 3, "symbolFillColor": "transparent", "labelFont": "Liberation Sans", "labelFontSize": 14.5, "labelColor": "#444444", "titleFont": "Liberation Sans", "titleFontSize": 14.5, "titleFontWeight": "normal", "titleColor": "#444444", "labelOffset": 5, "labelLimit": 400, "titleLimit": 400, "padding": 0},
 "title": {"anchor": "start", "frame": "group", "font": "Liberation Serif", "fontSize": 66, "fontWeight": "bold", "color": "black", "offset": 0, "baseline": "alphabetic"}
}
}
